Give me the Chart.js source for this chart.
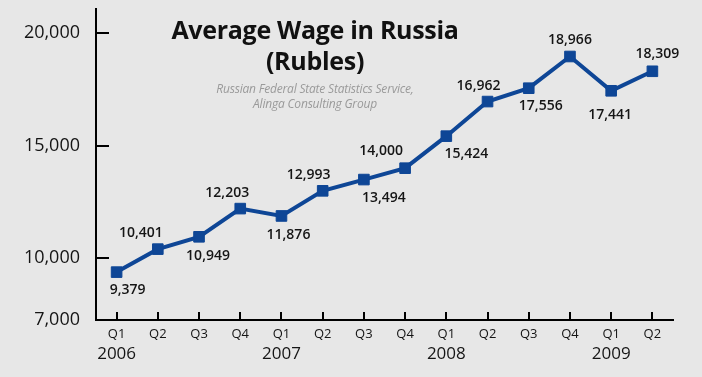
<!DOCTYPE html>
<html>
<head>
<meta charset="utf-8">
<script src="https://cdn.jsdelivr.net/npm/chart.js@4"></script>
<style>
  html, body { margin: 0; padding: 0; background: #e7e7e7; }
  #wrap { position: relative; width: 702px; height: 377px; background: #e7e7e7; overflow: hidden; }
  #c { position: absolute; left: 0; top: 0; }
  #title { position: absolute; left: 115px; width: 400px; top: 14px; text-align: center;
    font-family: "Open Sans", sans-serif; font-weight: 700; font-size: 25px; line-height: 31px; color: #111; letter-spacing: -0.3px; }
  #source { position: absolute; left: 165px; width: 300px; top: 81px; text-align: center;
    font-family: "Open Sans", sans-serif; font-style: italic; font-size: 12px; line-height: 15px; color: #9a9a9a; letter-spacing: -0.2px; }
</style>
</head>
<body>
<div id="wrap">
  <canvas id="c" width="702" height="377"></canvas>
  <div id="title">Average Wage in Russia<br>(Rubles)</div>
  <div id="source">Russian Federal State Statistics Service,<br>Alinga Consulting Group</div>
</div>
<script>
const quarters = ['Q1','Q2','Q3','Q4','Q1','Q2','Q3','Q4','Q1','Q2','Q3','Q4','Q1','Q2'];
const years = ['2006','','','','2007','','','','2008','','','','2009',''];
const wages = [9379, 10401, 10949, 12203, 11876, 12993, 13494, 14000, 15424, 16962, 17556, 18966, 17441, 18309];
const yTicks = [7000, 10000, 15000, 20000];

// value-label placement relative to each point (layout only, in pixels)
const labelDx = [11, -17, 9, -13, 7, -14, 20, -24, 20, -9, 12, 0, -1, 5];
const labelDy = [18, -16, 19, -16, 19, -16, 18, -17, 18, -16, 18, -16, 24, -17];

const FONT = '"Open Sans", sans-serif';
const LINE = '#0e4696';
const fmt = v => v.toLocaleString('en-US');

const Y_MIN = 7250;   // axis is broken: the 7,000 tick sits at the bottom of the axis
const Y_MAX = 21100;

const decor = {
  id: 'decor',
  afterDraw(chart) {
    const ctx = chart.ctx;
    const y = chart.scales.y, x = chart.scales.x;
    const area = chart.chartArea;
    ctx.save();
    ctx.strokeStyle = '#000';
    ctx.lineWidth = 2;
    y.ticks.forEach(t => {
      const py = Math.round(y.getPixelForValue(t.value));
      ctx.beginPath();
      ctx.moveTo(area.left, py);
      ctx.lineTo(area.left + 13, py);
      ctx.stroke();
    });
    quarters.forEach((q, i) => {
      const px = Math.round(x.getPixelForValue(i));
      ctx.beginPath();
      ctx.moveTo(px, area.bottom);
      ctx.lineTo(px, area.bottom - 8);
      ctx.stroke();
    });
    ctx.restore();
  },
  afterDatasetsDraw(chart) {
    const ctx = chart.ctx;
    const meta = chart.getDatasetMeta(0);
    ctx.save();
    ctx.font = '600 14px ' + FONT;
    ctx.fillStyle = '#151515';
    ctx.textAlign = 'center';
    ctx.textBaseline = 'middle';
    meta.data.forEach((pt, i) => {
      ctx.fillText(fmt(wages[i]), pt.x + labelDx[i], pt.y + labelDy[i]);
    });
    ctx.restore();
  }
};

new Chart(document.getElementById('c'), {
  type: 'line',
  data: {
    labels: quarters,
    datasets: [{
      data: wages,
      borderColor: LINE,
      borderWidth: 4,
      backgroundColor: LINE,
      pointStyle: 'rect',
      pointRadius: 7.5,
      pointHoverRadius: 7.5,
      pointBorderWidth: 1,
      pointBorderColor: LINE,
      pointBackgroundColor: LINE,
      tension: 0,
      clip: false
    }]
  },
  options: {
    responsive: false,
    animation: false,
    events: [],
    layout: { padding: { left: 0, right: 29, top: 8, bottom: 0 } },
    plugins: { legend: { display: false }, tooltip: { enabled: false }, title: { display: false } },
    scales: {
      y: {
        min: Y_MIN, max: Y_MAX,
        afterBuildTicks(scale) {
          scale.ticks = yTicks.map(v => ({ value: Math.max(v, Y_MIN) }));
        },
        afterFit(scale) { scale.width = 96; scale.paddingTop = 0; scale.paddingBottom = 0; },
        grid: { display: true, drawOnChartArea: false, drawTicks: false },
        border: { display: true, color: '#000', width: 2 },
        ticks: {
          padding: 16,
          color: '#151515',
          font: { family: FONT, size: 18, weight: 500 },
          callback(value) {
            const idx = yTicks.findIndex(v => Math.max(v, Y_MIN) === value);
            return idx >= 0 ? fmt(yTicks[idx]) : '';
          }
        }
      },
      x: {
        offset: true,
        afterFit(scale) { scale.height = 22; scale.paddingLeft = 0; scale.paddingRight = 0; },
        grid: { display: true, drawOnChartArea: false, drawTicks: false },
        border: { display: true, color: '#000', width: 2 },
        ticks: {
          padding: 6,
          autoSkip: false, maxRotation: 0,
          color: '#151515',
          font: { family: FONT, size: 13 }
        }
      },
      xYear: {
        type: 'category',
        labels: years,
        position: 'bottom',
        offset: true,
        afterFit(scale) { scale.height = 35; scale.paddingLeft = 0; scale.paddingRight = 0; },
        grid: { display: false, drawTicks: false },
        border: { display: false },
        ticks: {
          padding: 2,
          autoSkip: false, maxRotation: 0,
          color: '#151515',
          font: { family: FONT, size: 17, weight: 500 }
        }
      }
    }
  },
  plugins: [decor]
});
</script>
</body>
</html>
